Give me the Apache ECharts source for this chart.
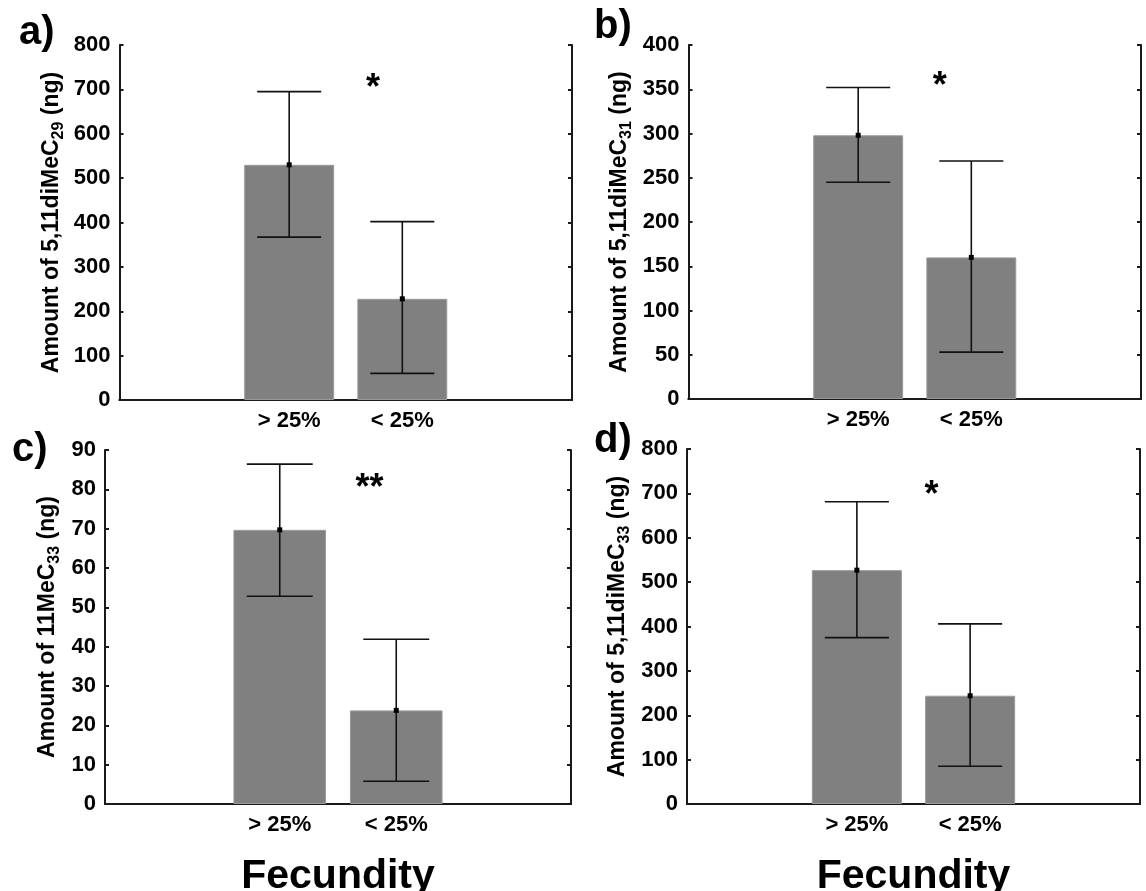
<!DOCTYPE html>
<html>
<head>
<meta charset="utf-8">
<script src="https://cdn.jsdelivr.net/npm/echarts@6/dist/echarts.min.js"></script>
<style>
  html, body { margin: 0; padding: 0; background: #fff; }
  #chart { width: 1146px; height: 891px; }
</style>
</head>
<body>
<div id="chart"></div>
<script>
// categories: empty slots on both sides like the original plot
const categories = ["", "> 25%", "< 25%", ""];

const panelLetters = ["a)", "b)", "c)", "d)"];
const yMain = ["Amount of 5,11diMeC", "Amount of 5,11diMeC", "Amount of 11MeC", "Amount of 5,11diMeC"];
const ySub = ["29", "31", "33", "33"];
const yMax = [800, 400, 90, 800];
const yStep = [100, 50, 10, 100];

// means, upper and lower error limits (> 25%, < 25%)
const meanA = [530, 228];
const upperA = [695, 402];
const lowerA = [367, 60];

const meanB = [298, 160];
const upperB = [352, 269];
const lowerB = [245, 53];

const meanC = [69.7, 23.8];
const upperC = [86.4, 41.9];
const lowerC = [52.8, 5.8];

const meanD = [527, 244];
const upperD = [681, 406];
const lowerD = [375, 85];

// significance marks
const starText = ["*", "*", "**", "*"];
const starX = [2.24, 2.22, 2.27, 2.16];
const starY = [721, 363, 82.4, 714];

const means = [meanA, meanB, meanC, meanD];
const uppers = [upperA, upperB, upperC, upperD];
const lowers = [lowerA, lowerB, lowerC, lowerD];

const grids = [
  { left: 119.5, top: 45, width: 452.5, height: 355 },
  { left: 688.5, top: 45, width: 452.5, height: 354 },
  { left: 105, top: 450, width: 466, height: 354 },
  { left: 687, top: 449, width: 453, height: 355 },
];
const nameGaps = [53, 54, 42, 54];
const letterPos = [[19, 13], [594, 7], [12, 430], [594, 421]];

const FONT = "Liberation Sans";
const axisColor = "#1a1a1a";

var xAxis = [];
var yAxis = [];
var series = [];
var title = [];

function renderErr(params, api) {
  var xi = api.value(0);
  var lo = api.coord([xi, api.value(1)]);
  var hi = api.coord([xi, api.value(2)]);
  var mid = api.coord([xi, api.value(3)]);
  var half = api.size([1, 0])[0] * 0.283;
  var st = { stroke: "#111", lineWidth: 1.6 };
  return {
    type: "group",
    children: [
      { type: "line", shape: { x1: hi[0], y1: hi[1], x2: lo[0], y2: lo[1] }, style: st },
      { type: "line", shape: { x1: hi[0] - half, y1: hi[1], x2: hi[0] + half, y2: hi[1] }, style: st },
      { type: "line", shape: { x1: lo[0] - half, y1: lo[1], x2: lo[0] + half, y2: lo[1] }, style: st },
      { type: "rect", shape: { x: mid[0] - 2.5, y: mid[1] - 2.5, width: 5, height: 5 }, style: { fill: "#000" } },
    ],
  };
}

for (let i = 0; i < 4; i++) {
  const bottomRow = i >= 2;
  title.push({
    text: panelLetters[i],
    left: letterPos[i][0],
    top: letterPos[i][1],
    padding: 0,
    textStyle: { fontFamily: FONT, fontSize: 40, fontWeight: "bold", color: "#000" },
  });

  // bottom category axis
  xAxis.push({
    gridIndex: i,
    type: "category",
    data: categories,
    position: "bottom",
    axisLine: { lineStyle: { color: axisColor, width: 2 } },
    axisTick: { inside: true, length: 4, alignWithLabel: true, lineStyle: { color: axisColor, width: 2 } },
    axisLabel: { fontFamily: FONT, fontSize: 22, fontWeight: "bold", color: "#000", margin: 10 },
    name: bottomRow ? "Fecundity" : "",
    nameLocation: "middle",
    nameGap: 52,
    nameTextStyle: { fontFamily: FONT, fontSize: 41, fontWeight: "bold", color: "#000" },
  });
  // top category axis (frame + ticks)
  xAxis.push({
    gridIndex: i,
    type: "category",
    data: categories,
    position: "top",
    axisLine: { lineStyle: { color: axisColor, width: 2 } },
    axisTick: { inside: true, length: 4, alignWithLabel: true, lineStyle: { color: axisColor, width: 2 } },
    axisLabel: { show: false },
  });
  // hidden value axis used to place significance stars
  xAxis.push({ gridIndex: i, type: "value", min: 0, max: 4, show: false });

  yAxis.push({
    gridIndex: i,
    type: "value",
    min: 0,
    max: yMax[i],
    interval: yStep[i],
    position: "left",
    splitLine: { show: false },
    axisLine: { show: true, lineStyle: { color: axisColor, width: 2 } },
    axisTick: { show: true, inside: true, length: 4, lineStyle: { color: axisColor, width: 2 } },
    axisLabel: { fontFamily: FONT, fontSize: 22, fontWeight: "bold", color: "#000", margin: 9 },
    name: "{t|" + yMain[i] + "}{s|" + ySub[i] + "}{t| (ng)}",
    nameLocation: "middle",
    nameGap: nameGaps[i],
    nameTextStyle: {
      rich: {
        t: { fontFamily: FONT, fontSize: 23, fontWeight: "bold", color: "#000", lineHeight: 30 },
        s: { fontFamily: FONT, fontSize: 16, fontWeight: "bold", color: "#000", lineHeight: 16, verticalAlign: "bottom" },
      },
    },
  });
  yAxis.push({
    gridIndex: i,
    type: "value",
    min: 0,
    max: yMax[i],
    interval: yStep[i],
    position: "right",
    splitLine: { show: false },
    axisLine: { show: true, lineStyle: { color: axisColor, width: 2 } },
    axisTick: { show: true, inside: true, length: 4, lineStyle: { color: axisColor, width: 2 } },
    axisLabel: { show: false },
  });

  const xb = i * 3;
  const yl = i * 2;

  series.push({
    type: "bar",
    xAxisIndex: xb,
    yAxisIndex: yl,
    barWidth: "79.5%",
    itemStyle: { color: "#808080", borderColor: "#9a9a9a", borderWidth: 1 },
    data: ["-", means[i][0], means[i][1], "-"],
    silent: true,
  });
  series.push({
    type: "custom",
    xAxisIndex: xb,
    yAxisIndex: yl,
    renderItem: renderErr,
    data: [
      [1, lowers[i][0], uppers[i][0], means[i][0]],
      [2, lowers[i][1], uppers[i][1], means[i][1]],
    ],
    z: 5,
    silent: true,
  });
  series.push({
    type: "scatter",
    xAxisIndex: xb + 2,
    yAxisIndex: yl,
    symbolSize: 0,
    itemStyle: { color: "#000", opacity: 1 },
    data: [[starX[i], starY[i]]],
    label: {
      show: true,
      formatter: starText[i],
      position: "inside",
      offset: [0, 9],
      fontFamily: FONT,
      fontSize: 36,
      fontWeight: "bold",
      color: "#000",
      opacity: 1,
      textBorderWidth: 0,
    },
    silent: true,
  });
}

var myChart = echarts.init(document.getElementById("chart"));
var option = {
  animation: false,
  backgroundColor: "#fff",
  title: title,
  grid: grids.map(function (g) {
    return Object.assign({ outerBoundsMode: "none", containLabel: false }, g);
  }),
  xAxis: xAxis,
  yAxis: yAxis,
  series: series,
};
option && myChart.setOption(option);
</script>
</body>
</html>
